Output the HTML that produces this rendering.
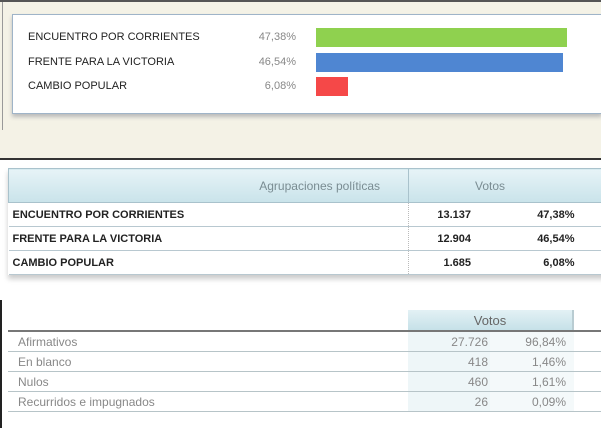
<!DOCTYPE html>
<html><head><meta charset="utf-8"><style>
body{margin:0;width:601px;height:428px;overflow:hidden;background:#fff;font-family:"Liberation Sans",Arial,sans-serif;position:relative}
.abs{position:absolute}
#top{left:0;top:0;width:601px;height:158px;background:#f4f2e6;border-top:2px solid #555;box-sizing:border-box}
#panel{left:12px;top:14px;width:590px;height:100px;background:#fff;border:1px solid #9fb4c8;box-shadow:0 3px 4px #bbb;box-sizing:border-box}
.lbl{font-size:11px;color:#222;left:28px}
.pct{font-size:11px;color:#888;width:60px;text-align:right;left:236px}
.bar{left:316px;height:19px}
table{border-collapse:collapse;position:absolute}
#t2{left:8px;top:168px;width:600px;font-size:11px;font-weight:bold;color:#222;box-shadow:0 4px 5px #ccc}
#t2 th{height:31px;background:linear-gradient(#e6f3f7,#c9e3ea);color:#7a8c92;font-weight:normal;font-size:12px;border:1px solid #a9c2cc}
#t2 td{height:23px;border-bottom:1px solid #b8c8d0;padding:0}
#t3{left:8px;top:310px;width:593px;font-size:12px;color:#888}
#t3 td{height:19px;border-bottom:1px solid #b7c4c8;padding:0}
</style></head><body>
<div id="top" class="abs"></div>
<div class="abs" style="left:2px;top:2px;width:1px;height:128px;background:#999"></div>
<div id="panel" class="abs"></div>
<div id="bars"></div>
<div class="abs" style="left:0;top:158px;width:601px;height:2px;background:#333"></div>

<table id="t2">
<tr><th style="text-align:right;padding-right:28px;width:370px">Agrupaciones políticas</th><th colspan="2" style="text-align:left;padding-left:66px">Votos</th></tr>
<tr><td style="padding-left:4px;border-right:1px dotted #bbb">ENCUENTRO POR CORRIENTES</td><td style="text-align:right;width:62px">13.137</td><td style="text-align:right;padding-right:33px">47,38%</td></tr>
<tr><td style="padding-left:4px;border-right:1px dotted #bbb">FRENTE PARA LA VICTORIA</td><td style="text-align:right">12.904</td><td style="text-align:right;padding-right:33px">46,54%</td></tr>
<tr><td style="padding-left:4px;border-right:1px dotted #bbb">CAMBIO POPULAR</td><td style="text-align:right">1.685</td><td style="text-align:right;padding-right:33px">6,08%</td></tr>
</table>

<div class="abs" style="left:0;top:300px;width:2px;height:128px;background:#222"></div>
<div class="abs" style="left:408px;top:310px;width:166px;height:20px;background:linear-gradient(#e3f1f5,#c6e1e8);border-right:2px solid #b9ccd2;box-sizing:border-box;text-align:center;font-size:13px;line-height:21px;color:#666">Votos</div>
<div class="abs" style="left:8px;top:330px;width:593px;height:2px;background:#777"></div>
<table id="t3" style="top:332px">
<tr><td style="padding-left:10px;width:390px">Afirmativos</td><td style="text-align:right;width:80px;background:#eef6f8;padding-right:2px">27.726</td><td style="text-align:right;width:76px;background:#f4f9fa;padding-right:8px">96,84%</td><td></td></tr>
<tr><td style="padding-left:10px">En blanco</td><td style="text-align:right;background:#eef6f8;padding-right:2px">418</td><td style="text-align:right;background:#f4f9fa;padding-right:8px">1,46%</td><td></td></tr>
<tr><td style="padding-left:10px">Nulos</td><td style="text-align:right;background:#eef6f8;padding-right:2px">460</td><td style="text-align:right;background:#f4f9fa;padding-right:8px">1,61%</td><td></td></tr>
<tr><td style="padding-left:10px">Recurridos e impugnados</td><td style="text-align:right;background:#eef6f8;padding-right:2px">26</td><td style="text-align:right;background:#f4f9fa;padding-right:8px">0,09%</td><td></td></tr>
</table>

<script>
const parties=["ENCUENTRO POR CORRIENTES","FRENTE PARA LA VICTORIA","CAMBIO POPULAR"];
const shares=[47.38,46.54,6.08];
const colors=["#8fd14f","#4f86d2","#f54848"];
const c=document.getElementById('bars');
const x=v=>v/47.38*251;
shares.forEach((v,i)=>{
  const y=28+i*24.5;
  const l=document.createElement('div');l.className='abs lbl';l.style.top=(y+3)+'px';l.textContent=parties[i];
  
  
  const p=document.createElement('div');p.className='abs pct';p.style.top=(y+3)+'px';p.textContent=v.toFixed(2).replace('.',',')+'%';
  
  
  const b=document.createElement('div');b.className='abs bar';b.style.top=y+'px';b.style.width=x(v)+'px';b.style.background=colors[i];
  
  
  c.append(l,p,b);
});
</script>
</body></html>
